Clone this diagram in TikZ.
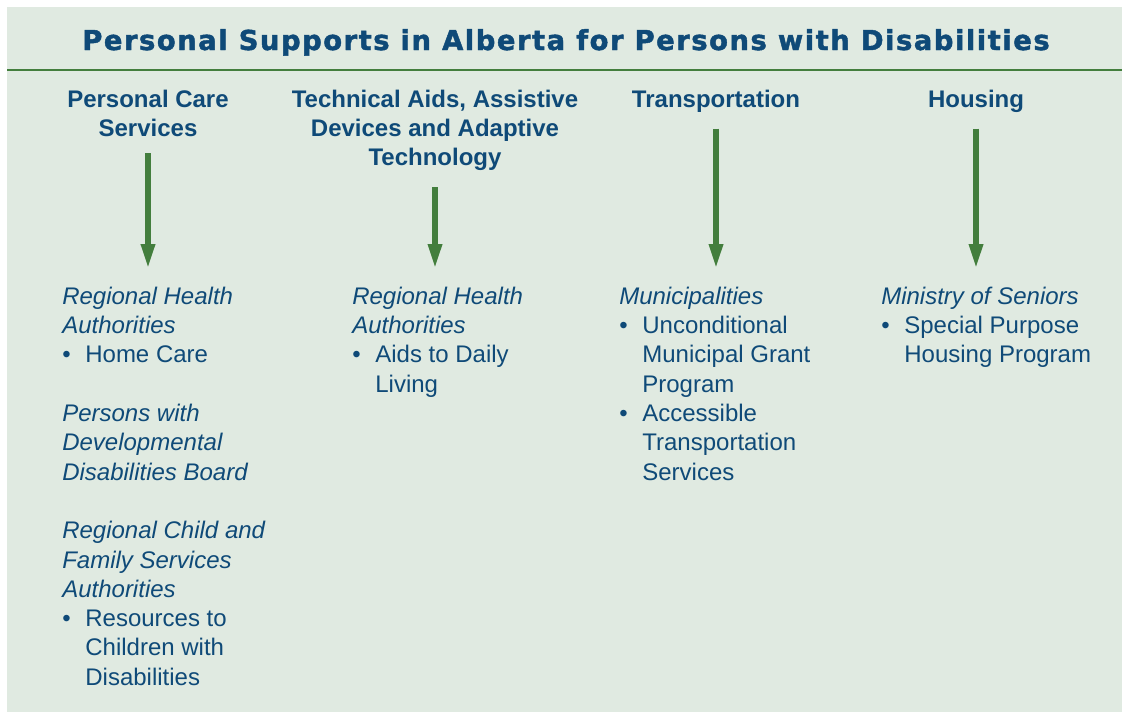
\documentclass[tikz,border=0pt]{standalone}
\usepackage{fontspec}
\setmainfont{Liberation Sans}
\newfontfamily\bannerfont[LetterSpace=5.5,FakeBold=1.6]{DejaVu Sans}
\usetikzlibrary{arrows.meta}

\definecolor{panelbg}{HTML}{E0EAE1}
\definecolor{inkblue}{HTML}{0F4A78}
\definecolor{rulegreen}{HTML}{437E3D}

\newcommand{\org}[1]{\textit{#1}}
\newcommand{\bul}{\makebox[16.4pt][l]{\textbullet}}
\newcommand{\ind}{\hspace*{16.4pt}}

\tikzset{
  banner/.style={anchor=base, inner sep=0pt, text=inkblue,
    font={\fontsize{19.5pt}{24pt}\bannerfont\bfseries}},
  heading/.style={anchor=north, align=center, inner sep=0pt, text=inkblue,
    font={\fontsize{17.07pt}{20.84pt}\selectfont\bfseries}},
  body/.style={anchor=north west, align=left, inner sep=0pt, text=inkblue,
    font={\fontsize{17.07pt}{20.84pt}\selectfont}},
  feed/.style={draw=rulegreen, line width=3.6pt,
    -{Triangle[length=17pt,width=9.5pt]},
    shorten <=11.4pt, shorten >=13.2pt},
}

\begin{document}
\begin{tikzpicture}[x=0.025cm, y=-0.025cm]
\useasboundingbox (0,0) rectangle (1122,712);
\fill[white] (0,0) rectangle (1122,712);
\fill[panelbg] (7,7) rectangle (1122,712);

% Title and rule.
\node[banner] (title) at (566,50) {Personal Supports in Alberta for Persons with Disabilities};
\draw[rulegreen, line width=1.5pt] (7,70) -- (1122,70);

% Column headings.
\node[heading] (care)    at (148,89.6) {Personal Care\\Services};
\node[heading] (aids)    at (435,89.6) {Technical Aids, Assistive\\Devices and Adaptive\\Technology};
\node[heading] (transit) at (716,89.6) {Transportation};
\node[heading] (housing) at (976,89.6) {Housing};

% Who delivers what.
\node[body] (carebody) at (62,286.6) {%
  \org{Regional Health}\\
  \org{Authorities}\\
  \bul Home Care\\[20.84pt]
  \org{Persons with}\\
  \org{Developmental}\\
  \org{Disabilities Board}\\[20.84pt]
  \org{Regional Child and}\\
  \org{Family Services}\\
  \org{Authorities}\\
  \bul Resources to\\
  \ind Children with\\
  \ind Disabilities};

\node[body] (aidsbody) at (352,286.6) {%
  \org{Regional Health}\\
  \org{Authorities}\\
  \bul Aids to Daily\\
  \ind Living};

\node[body] (transitbody) at (619,286.6) {%
  \org{Municipalities}\\
  \bul Unconditional\\
  \ind Municipal Grant\\
  \ind Program\\
  \bul Accessible\\
  \ind Transportation\\
  \ind Services};

\node[body] (housingbody) at (881,286.6) {%
  \org{Ministry of Seniors}\\
  \bul Special Purpose\\
  \ind Housing Program};

% Arrows.
\draw[feed] (care.south)    -- (care.south |- carebody.north);
\draw[feed] (aids.south)    -- (aids.south |- aidsbody.north);
\draw[feed] (transit.south) -- (transit.south |- transitbody.north);
\draw[feed] (housing.south) -- (housing.south |- housingbody.north);
\end{tikzpicture}
\end{document}
